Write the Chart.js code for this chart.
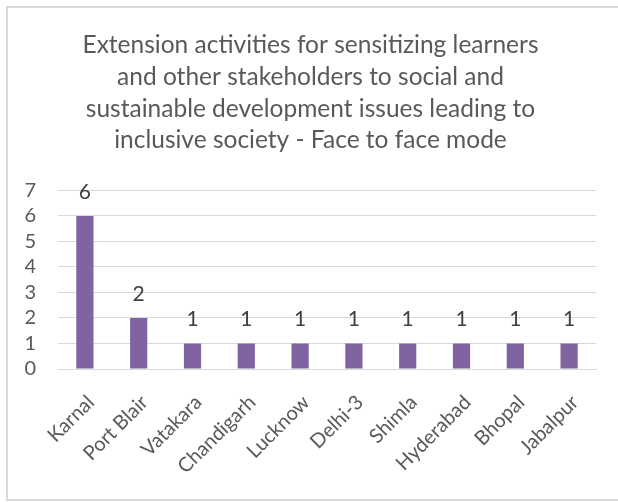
<!DOCTYPE html>
<html>
<head>
<meta charset="utf-8">
<script src="https://cdn.jsdelivr.net/npm/chart.js@4"></script>
<style>
  html, body { margin: 0; padding: 0; background: #fff; }
  #wrap { position: relative; width: 618px; height: 502px; }
</style>
</head>
<body>
<div id="wrap"><canvas id="myChart" width="618" height="502"></canvas></div>
<script>
const titleLines = [
    'Extension activities for sensitizing learners',
    'and other stakeholders to social and',
    'sustainable development issues leading to',
    'inclusive society - Face to face mode'
];
const centres = ['Karnal', 'Port Blair', 'Vatakara', 'Chandigarh', 'Lucknow', 'Delhi-3', 'Shimla', 'Hyderabad', 'Bhopal', 'Jabalpur'];
const activities = [6, 2, 1, 1, 1, 1, 1, 1, 1, 1];
const yTicks = [0, 1, 2, 3, 4, 5, 6, 7];

const textGrey = '#595959';

// frame, values above the bars and the slanted category labels
const extras = {
    id: 'extras',
    beforeDraw(chart) {
        const c = chart.ctx;
        c.save();
        c.strokeStyle = '#d9d9d9';
        c.lineWidth = 2;
        c.strokeRect(7, 7, 700, 493);
        c.restore();
    },
    afterDatasetsDraw(chart) {
        const c = chart.ctx;
        const meta = chart.getDatasetMeta(0);
        c.save();
        c.fillStyle = '#404040';
        c.font = '21px Lato';
        c.textAlign = 'center';
        c.textBaseline = 'middle';
        meta.data.forEach((bar, i) => {
            c.fillText(activities[i], bar.x, bar.y - 24);
        });

        const xs = chart.scales.x;
        c.fillStyle = textGrey;
        c.font = '20px Lato';
        c.textAlign = 'right';
        centres.forEach((name, i) => {
            c.save();
            c.translate(xs.getPixelForTick(i) + 6, xs.top + 30);
            c.rotate(-Math.PI / 4);
            c.fillText(name, 0, 0);
            c.restore();
        });
        c.restore();
    }
};

new Chart(document.getElementById('myChart'), {
    type: 'bar',
    data: {
        labels: centres,
        datasets: [{
            data: activities,
            backgroundColor: '#8064A2',
            categoryPercentage: 1,
            barPercentage: 0.32
        }]
    },
    options: {
        responsive: false,
        animation: false,
        layout: { padding: { top: 10, left: 25, right: 22, bottom: 0 } },
        plugins: {
            legend: { display: false },
            tooltip: { enabled: false },
            title: {
                display: true,
                text: titleLines,
                color: textGrey,
                font: { family: 'Lato', size: 24.5, weight: 'normal', lineHeight: 1.3 },
                padding: { top: 19, bottom: 34 }
            }
        },
        scales: {
            x: {
                grid: { display: false },
                border: { color: '#d9d9d9', width: 1 },
                ticks: { display: false },
                afterFit: (axis) => { axis.height = 133; axis.paddingLeft = 0; axis.paddingRight = 0; }
            },
            y: {
                min: 0,
                max: 7,
                afterBuildTicks: (axis) => { axis.ticks = yTicks.map(v => ({ value: v })); },
                afterFit: (axis) => { axis.width = 33; },
                grid: { color: '#d9d9d9', drawTicks: false },
                border: { display: false },
                ticks: {
                    color: textGrey,
                    font: { family: 'Lato', size: 20 },
                    autoSkip: false,
                    padding: 22
                }
            }
        }
    },
    plugins: [extras]
});
</script>
</body>
</html>
